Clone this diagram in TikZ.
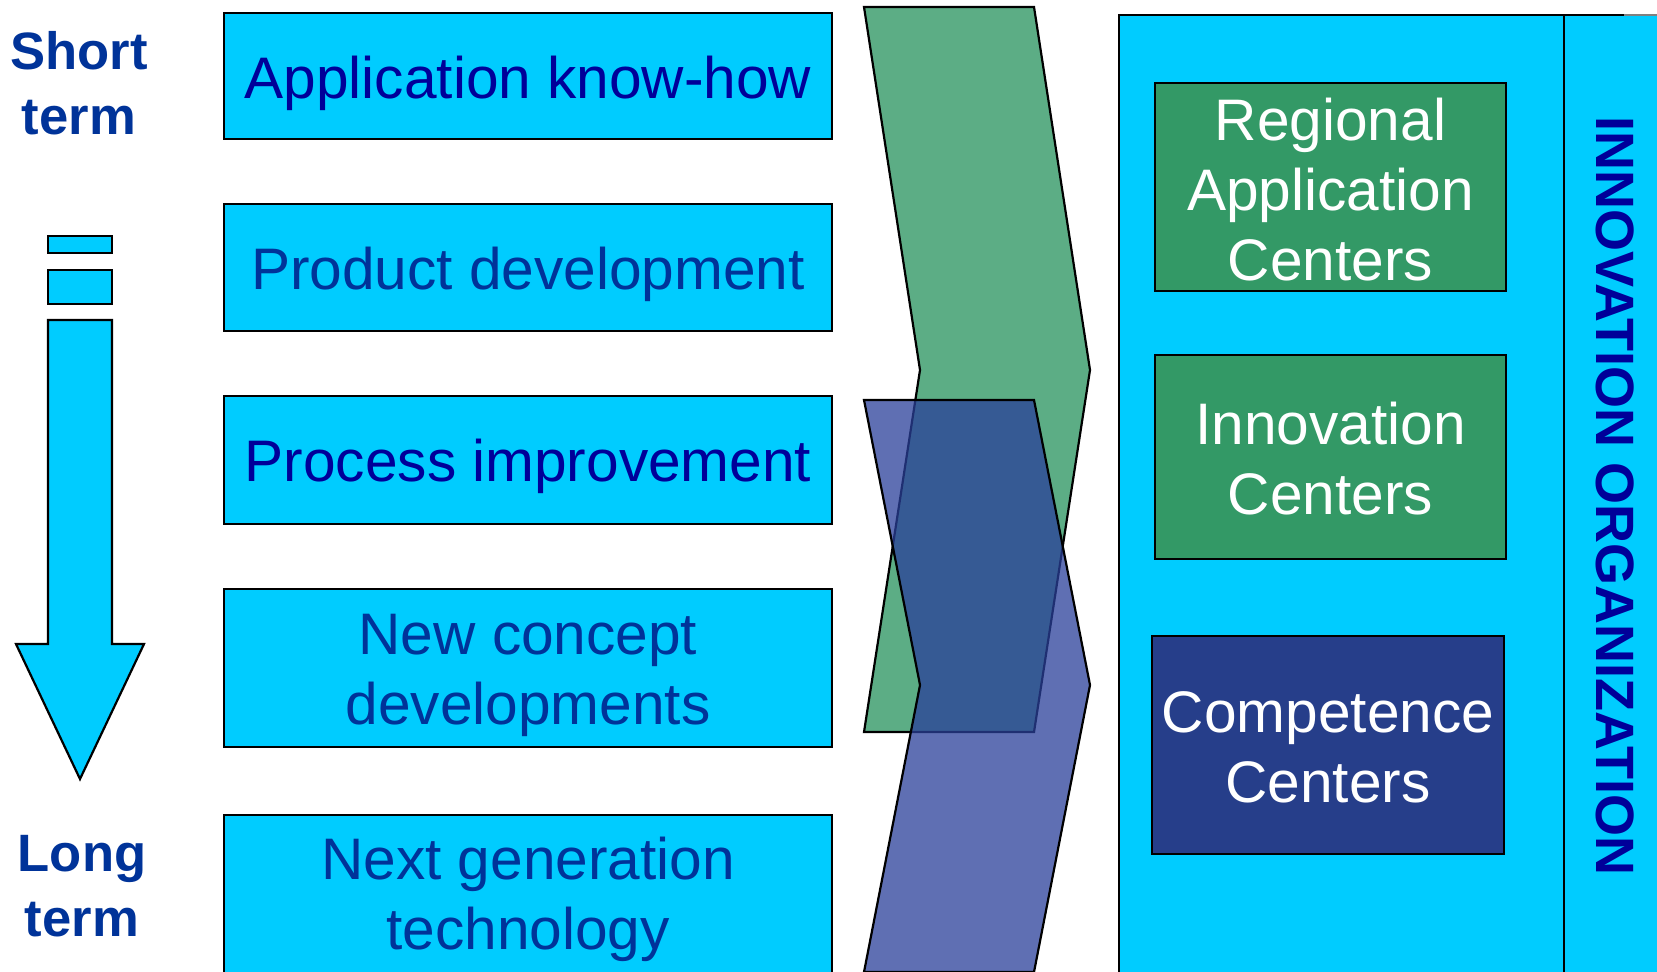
\documentclass[tikz,border=0pt]{standalone}
\usepackage{fontspec}
\setmainfont{Liberation Sans}
\definecolor{skyfill}{HTML}{00CCFF}
\definecolor{darknavy}{HTML}{000099}
\definecolor{midnavy}{HTML}{003399}
\definecolor{centergreen}{HTML}{339966}
\definecolor{centerblue}{HTML}{263E8A}
\definecolor{chevgreen}{HTML}{339966}
\definecolor{chevblue}{HTML}{2A3F99}
\tikzset{
  boxline/.style={draw, line width=1.1pt},
  boxtext/.style={align=center, inner sep=0pt, font=\fontsize{29.3}{35}\selectfont},
  termlabel/.style={align=center, text=midnavy, font=\bfseries\fontsize{26.3}{32.5}\selectfont}
}
\begin{document}
\begin{tikzpicture}[x=0.5pt,y=-0.5pt]
    \useasboundingbox (0,0) rectangle (1657,971);
    \clip (0,0) rectangle (1657,971);
    % time axis
    \node (short) at (79,83) [termlabel] {Short\\term};
    \node (long) at (82,886) [termlabel] {Long\\term};
    \filldraw [fill=skyfill, boxline] (48,236) rectangle (112,253);
    \filldraw [fill=skyfill, boxline] (48,270) rectangle (112,304);
    \filldraw [fill=skyfill, boxline] (48,320)--(112,320)--(112,644)--(144,644)--(80,779)--(16,644)--(48,644)--cycle;
    % activities
    \filldraw [fill=skyfill, boxline] (224,13) rectangle (832,139);
    \filldraw [fill=skyfill, boxline] (224,204) rectangle (832,331);
    \filldraw [fill=skyfill, boxline] (224,396) rectangle (832,524);
    \filldraw [fill=skyfill, boxline] (224,589) rectangle (832,747);
    \filldraw [fill=skyfill, boxline] (224,815) rectangle (832,980);
    \node (know) at (528,83) [boxtext, text=darknavy] {Application know-how};
    \node (prod) at (528,274) [boxtext, text=midnavy] {Product development};
    \node (proc) at (528,466.5) [boxtext, text=darknavy] {Process improvement};
    \node (concept) at (528,675.5) [boxtext, text=midnavy] {New concept\\developments};
    \node (nextgen) at (528,899) [boxtext, text=midnavy] {Next generation\\technology};
    % chevrons
    \filldraw [fill=chevgreen, fill opacity=0.8, line width=1.1pt] (864,7)--(1034,7)--(1090,370)--(1034,732)--(864,732)--(920,370)--cycle;
    \filldraw [fill=chevblue, fill opacity=0.75, line width=1.1pt] (864,400)--(1034,400)--(1090,685)--(1034,972)--(864,972)--(920,685)--cycle;
    % innovation organization
    \filldraw [fill=skyfill, boxline] (1119,15) rectangle (1564,980);
    \fill [skyfill] (1564,15) rectangle (1660,980);
    \draw [line width=1.1pt] (1564,980)--(1564,15)--(1624,15);
    \draw [gray, line width=1pt] (1624,14.5)--(1660,14.5);
    \node (org) at (1615,495.5) [rotate=-90, text=darknavy, font=\bfseries\fontsize{27}{32}\selectfont] {INNOVATION ORGANIZATION};
    \filldraw [fill=centergreen, boxline] (1155,83) rectangle (1506,291);
    \filldraw [fill=centergreen, boxline] (1155,355) rectangle (1506,559);
    \filldraw [fill=centerblue, boxline] (1152,636) rectangle (1504,854);
    \node (regional) at (1330.5,190) [boxtext, text=white] {Regional\\Application\\Centers};
    \node (innocent) at (1330.5,459) [boxtext, text=white] {Innovation\\Centers};
    \node (compet) at (1328,747) [boxtext, text=white] {Competence\\Centers};
\end{tikzpicture}
\end{document}
